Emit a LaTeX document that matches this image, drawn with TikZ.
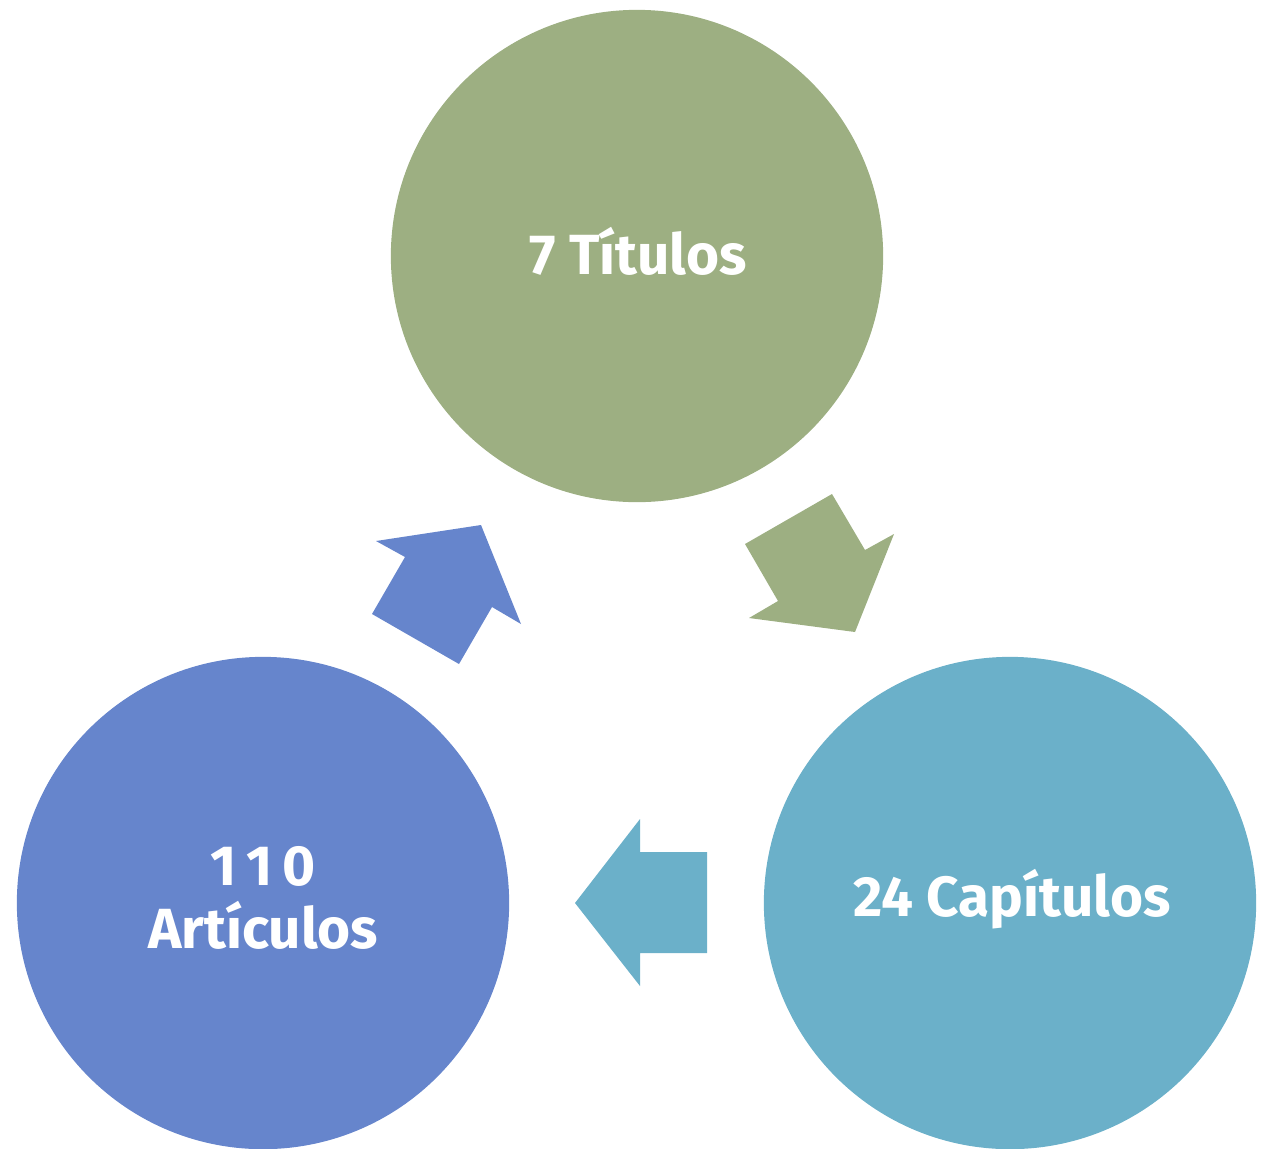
\documentclass[tikz,border=0pt]{standalone}
\usepackage{fontspec}
\setmainfont{Fira Sans}
\definecolor{cgreen}{HTML}{9DAF82}
\definecolor{cblue}{HTML}{6685CC}
\definecolor{cteal}{HTML}{6BB0C9}
\begin{document}
\begin{tikzpicture}[x=0.01cm,y=-0.01cm,
  circ/.style={circle,minimum size=4.92cm,inner sep=0pt},
  lbl/.style={text=white,font=\fontsize{16.1}{19}\selectfont\bfseries,align=center}]
\useasboundingbox (0,0) rectangle (1273,1148);
\node[circ,fill=cgreen] (t) at (637,256) {};
\node[circ,fill=cblue] (a) at (263,903) {};
\node[circ,fill=cteal] (c) at (1010,903) {};
\node[lbl] (tl) at (638,251) {7 Títulos};
\node[lbl] (cl) at (1012,899) {24 Capítulos};
\node[lbl] (al) at (263,898) {1\,1\,0\\[-1pt]Artículos};
\fill[cgreen] (832,494) -- (865,550) -- (894,534) -- (855,632) -- (749,618) -- (778,601) -- (745,544) -- cycle;
\fill[cblue] (376,541) -- (481,525) -- (521,624) -- (492,607) -- (459,664) -- (372,614) -- (405,557) -- cycle;
\fill[cteal] (575,903) -- (640,819) -- (640,852) -- (707,852) -- (707,953) -- (640,953) -- (640,986) -- cycle;
\end{tikzpicture}
\end{document}
